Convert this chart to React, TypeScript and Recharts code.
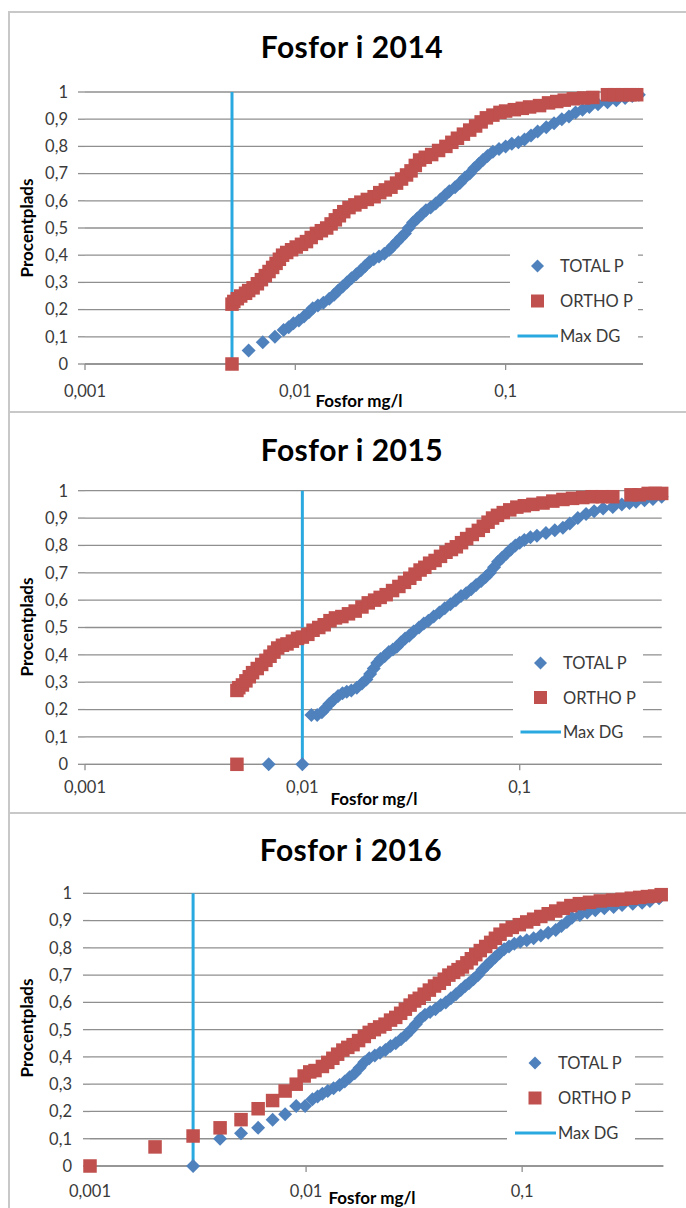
import React from "react";
import { ScatterChart, Scatter, XAxis, YAxis, CartesianGrid } from "recharts";

// axis setup shared by the three panels
const xTicks = [0.001, 0.01, 0.1];
const yTicks = [0, 0.1, 0.2, 0.3, 0.4, 0.5, 0.6, 0.7, 0.8, 0.9, 1];
const xDomain = [0.001, 0.45];
const yDomain = [0, 1];

const titles = ["Fosfor i 2014", "Fosfor i 2015", "Fosfor i 2016"];
const seriesNames = ["TOTAL P", "ORTHO P", "Max DG"];
const maxDg = [0.005, 0.01, 0.003];

// [x mg/l, percentile]
const total2014: [number, number][] = [
  [0.006, 0.05], [0.007, 0.08], [0.008, 0.1], [0.0088, 0.125], [0.0093, 0.135], [0.0098, 0.15],
  [0.0104, 0.16], [0.011, 0.175], [0.0116, 0.19], [0.0121, 0.205], [0.0128, 0.215], [0.0136, 0.225],
  [0.0145, 0.24], [0.0153, 0.255], [0.016, 0.27], [0.0168, 0.285], [0.0176, 0.3], [0.0185, 0.315],
  [0.0195, 0.33], [0.0205, 0.345], [0.0215, 0.36], [0.0225, 0.375], [0.0236, 0.385], [0.025, 0.395],
  [0.0265, 0.405], [0.028, 0.42], [0.0292, 0.435], [0.0305, 0.45], [0.0318, 0.465], [0.0332, 0.48],
  [0.0346, 0.5], [0.0363, 0.52], [0.038, 0.535], [0.0398, 0.55], [0.0418, 0.565], [0.044, 0.575],
  [0.0465, 0.59], [0.049, 0.605], [0.0515, 0.62], [0.054, 0.635], [0.0575, 0.65], [0.0606, 0.665],
  [0.064, 0.685], [0.0675, 0.7], [0.071, 0.72], [0.0745, 0.735], [0.078, 0.75], [0.082, 0.765],
  [0.087, 0.78], [0.093, 0.79], [0.1, 0.8], [0.107, 0.81], [0.115, 0.815], [0.123, 0.825],
  [0.132, 0.84], [0.142, 0.855], [0.156, 0.87], [0.17, 0.885], [0.185, 0.9], [0.2, 0.91],
  [0.215, 0.925], [0.232, 0.935], [0.25, 0.945], [0.275, 0.955], [0.305, 0.962], [0.336, 0.97],
  [0.37, 0.978], [0.4, 0.985], [0.43, 0.99],
];

const ortho2014: [number, number][] = [
  [0.005, 0], [0.005, 0.22], [0.0051, 0.23], [0.0053, 0.24], [0.0055, 0.25], [0.0058, 0.26],
  [0.006, 0.27], [0.0063, 0.28], [0.0066, 0.295], [0.0069, 0.31], [0.0072, 0.325], [0.0075, 0.34],
  [0.0078, 0.355], [0.0081, 0.37], [0.0084, 0.385], [0.0087, 0.4], [0.0091, 0.41], [0.0096, 0.42],
  [0.0101, 0.43], [0.0107, 0.44], [0.0113, 0.45], [0.0119, 0.465], [0.0126, 0.48], [0.0133, 0.49],
  [0.0141, 0.5], [0.0148, 0.515], [0.0155, 0.53], [0.0162, 0.545], [0.017, 0.56], [0.018, 0.575],
  [0.0192, 0.585], [0.0205, 0.595], [0.022, 0.605], [0.0237, 0.615], [0.0252, 0.63], [0.0268, 0.64],
  [0.0285, 0.65], [0.0303, 0.665], [0.032, 0.68], [0.0338, 0.695], [0.0355, 0.71], [0.0372, 0.73],
  [0.039, 0.75], [0.0415, 0.76], [0.0445, 0.77], [0.048, 0.785], [0.052, 0.8], [0.0555, 0.815],
  [0.059, 0.83], [0.063, 0.845], [0.0675, 0.86], [0.072, 0.875], [0.0765, 0.89], [0.081, 0.905],
  [0.087, 0.915], [0.094, 0.925], [0.1, 0.93], [0.11, 0.935], [0.12, 0.94], [0.13, 0.945],
  [0.145, 0.95], [0.16, 0.96], [0.175, 0.965], [0.19, 0.97], [0.21, 0.975], [0.235, 0.978],
  [0.26, 0.98], [0.305, 0.99], [0.33, 0.99], [0.36, 0.99], [0.39, 0.99], [0.42, 0.99],
];

const total2015: [number, number][] = [
  [0.007, 0], [0.01, 0], [0.011, 0.18], [0.0117, 0.18], [0.0123, 0.19], [0.0128, 0.205],
  [0.0133, 0.22], [0.0139, 0.235], [0.0146, 0.25], [0.0153, 0.26], [0.016, 0.265], [0.0168, 0.27],
  [0.0178, 0.28], [0.0188, 0.295], [0.0197, 0.31], [0.0205, 0.33], [0.0213, 0.35], [0.0221, 0.37],
  [0.0229, 0.385], [0.0239, 0.395], [0.025, 0.41], [0.0261, 0.42], [0.0272, 0.43], [0.0284, 0.445],
  [0.0297, 0.46], [0.031, 0.47], [0.0325, 0.485], [0.0344, 0.5], [0.0362, 0.515], [0.038, 0.525],
  [0.0402, 0.54], [0.0427, 0.555], [0.0452, 0.57], [0.048, 0.585], [0.0508, 0.6], [0.0537, 0.615],
  [0.0567, 0.625], [0.0598, 0.64], [0.063, 0.655], [0.0665, 0.67], [0.0697, 0.685], [0.0729, 0.7],
  [0.0762, 0.72], [0.0795, 0.74], [0.083, 0.755], [0.0868, 0.77], [0.091, 0.785], [0.0955, 0.8],
  [0.1, 0.81], [0.105, 0.82], [0.112, 0.83], [0.12, 0.835], [0.132, 0.845], [0.145, 0.855],
  [0.158, 0.865], [0.17, 0.88], [0.185, 0.9], [0.202, 0.915], [0.22, 0.925], [0.242, 0.935],
  [0.268, 0.94], [0.295, 0.95], [0.32, 0.955], [0.343, 0.96], [0.375, 0.965], [0.41, 0.97],
  [0.45, 0.978],
];

const ortho2015: [number, number][] = [
  [0.005, 0], [0.005, 0.27], [0.0051, 0.28], [0.0053, 0.29], [0.0055, 0.305], [0.0057, 0.32],
  [0.0059, 0.335], [0.0062, 0.35], [0.0065, 0.365], [0.0068, 0.38], [0.0071, 0.395], [0.0074, 0.41],
  [0.0077, 0.425], [0.0081, 0.435], [0.0085, 0.44], [0.009, 0.45], [0.0095, 0.46], [0.01, 0.465],
  [0.0106, 0.475], [0.0112, 0.49], [0.0119, 0.5], [0.0126, 0.51], [0.0134, 0.525], [0.0142, 0.535],
  [0.0152, 0.54], [0.0163, 0.55], [0.0175, 0.56], [0.0188, 0.575], [0.0201, 0.59], [0.0215, 0.6],
  [0.0228, 0.61], [0.0243, 0.62], [0.026, 0.635], [0.0278, 0.65], [0.0295, 0.665], [0.0312, 0.68],
  [0.033, 0.695], [0.0348, 0.71], [0.0366, 0.72], [0.0385, 0.735], [0.0408, 0.745], [0.0432, 0.76],
  [0.0458, 0.775], [0.0485, 0.785], [0.0511, 0.795], [0.054, 0.81], [0.057, 0.825], [0.0605, 0.84],
  [0.0645, 0.855], [0.068, 0.87], [0.0715, 0.885], [0.075, 0.9], [0.079, 0.91], [0.084, 0.92],
  [0.09, 0.93], [0.097, 0.94], [0.105, 0.945], [0.115, 0.95], [0.128, 0.955], [0.142, 0.962],
  [0.158, 0.968], [0.175, 0.972], [0.195, 0.975], [0.215, 0.978], [0.24, 0.978], [0.268, 0.978],
  [0.325, 0.985], [0.355, 0.985], [0.39, 0.99], [0.42, 0.99], [0.45, 0.99],
];

const total2016: [number, number][] = [
  [0.003, 0], [0.004, 0.1], [0.005, 0.12], [0.006, 0.14], [0.007, 0.17], [0.008, 0.19],
  [0.009, 0.22], [0.0099, 0.22], [0.0107, 0.245], [0.0113, 0.255], [0.0119, 0.265], [0.0126, 0.275],
  [0.0134, 0.285], [0.0143, 0.297], [0.0151, 0.31], [0.0159, 0.325], [0.0168, 0.34], [0.0177, 0.36],
  [0.0186, 0.38], [0.0196, 0.395], [0.0208, 0.405], [0.022, 0.415], [0.0233, 0.425], [0.0246, 0.44],
  [0.026, 0.45], [0.0275, 0.465], [0.029, 0.48], [0.0306, 0.5], [0.0322, 0.52], [0.0338, 0.54],
  [0.0355, 0.555], [0.0375, 0.565], [0.0397, 0.575], [0.042, 0.59], [0.0443, 0.6], [0.0468, 0.615],
  [0.0494, 0.63], [0.052, 0.645], [0.0545, 0.66], [0.0567, 0.67], [0.0595, 0.685], [0.0625, 0.7],
  [0.0655, 0.72], [0.0685, 0.735], [0.0715, 0.75], [0.0748, 0.765], [0.0785, 0.78], [0.0825, 0.795],
  [0.0869, 0.805], [0.092, 0.815], [0.098, 0.822], [0.105, 0.828], [0.113, 0.835], [0.122, 0.845],
  [0.132, 0.855], [0.143, 0.865], [0.152, 0.88], [0.161, 0.895], [0.17, 0.91], [0.185, 0.92],
  [0.2, 0.93], [0.218, 0.938], [0.24, 0.945], [0.265, 0.95], [0.29, 0.957], [0.325, 0.962],
  [0.359, 0.965], [0.39, 0.972], [0.43, 0.982],
];

const ortho2016: [number, number][] = [
  [0.001, 0], [0.002, 0.07], [0.003, 0.11], [0.004, 0.14], [0.005, 0.17], [0.006, 0.21],
  [0.007, 0.24], [0.008, 0.275], [0.009, 0.3], [0.0098, 0.33], [0.0104, 0.345], [0.011, 0.35],
  [0.0119, 0.365], [0.0126, 0.38], [0.0133, 0.395], [0.014, 0.41], [0.0148, 0.425], [0.0156, 0.435],
  [0.0165, 0.445], [0.0175, 0.46], [0.0186, 0.475], [0.0196, 0.49], [0.0207, 0.5], [0.0219, 0.51],
  [0.0232, 0.52], [0.0246, 0.535], [0.026, 0.545], [0.0274, 0.56], [0.0288, 0.575], [0.0303, 0.59],
  [0.0318, 0.605], [0.0334, 0.615], [0.0352, 0.63], [0.0372, 0.645], [0.0393, 0.66], [0.0414, 0.67],
  [0.0436, 0.685], [0.0458, 0.7], [0.0482, 0.71], [0.0505, 0.72], [0.0529, 0.73], [0.0555, 0.745],
  [0.0582, 0.76], [0.061, 0.775], [0.064, 0.79], [0.0678, 0.805], [0.0715, 0.82], [0.0752, 0.835],
  [0.079, 0.85], [0.0842, 0.865], [0.09, 0.875], [0.097, 0.885], [0.105, 0.895], [0.113, 0.905],
  [0.122, 0.915], [0.132, 0.925], [0.143, 0.935], [0.155, 0.945], [0.168, 0.955], [0.184, 0.962],
  [0.205, 0.967], [0.23, 0.972], [0.262, 0.975], [0.29, 0.978], [0.32, 0.982], [0.35, 0.985],
  [0.38, 0.988], [0.41, 0.99], [0.44, 0.995],
];

const totals = [total2014, total2015, total2016];
const orthos = [ortho2014, ortho2015, ortho2016];

const BLUE = "#4F81BD";
const RED = "#C0504D";
const CYAN = "#2AA9E0";
const GRID = "#8f8f8f";
const TEXT = "#3a3a3a";
const FONT = "Lato, 'Open Sans', sans-serif";
const W = 686;

// page-coordinate geometry per panel
const layouts = [
  { top: 12, height: 400, plotTop: 92, plotBottom: 364, plotLeft: 85, plotRight: 643, xTickMargin: 15, yTickMargin: 10,
    titleX: 352, titleY: 46, yTitleY: 228, xTitleX: 359, xTitleY: 401,
    legend: { left: 510, top: 248, width: 128, height: 100, markerX: 537.5, textX: 560, firstY: 266, step: 35 } },
  { top: 412, height: 401, plotTop: 490.7, plotBottom: 764.3, plotLeft: 85, plotRight: 661.7, xTickMargin: 11, yTickMargin: 10,
    titleX: 352, titleY: 449, yTitleY: 627, xTitleX: 374, xTitleY: 798.5,
    legend: { left: 513, top: 648, width: 130, height: 100, markerX: 540.5, textX: 563, firstY: 663, step: 34.5 } },
  { top: 813, height: 395, plotTop: 893.3, plotBottom: 1166, plotLeft: 90, plotRight: 663.3, xTickMargin: 13, yTickMargin: 11,
    titleX: 351, titleY: 849, yTitleY: 1028, xTitleX: 372, xTitleY: 1197.5,
    legend: { left: 507, top: 1048, width: 128, height: 100, markerX: 535, textX: 558, firstY: 1063, step: 35 } },
];

const comma = (v: number) => String(v).replace(".", ",");

const Diamond = (props: any) => {
  const { cx, cy } = props;
  const r = 7;
  return <polygon points={`${cx},${cy - r} ${cx + r},${cy} ${cx},${cy + r} ${cx - r},${cy}`} fill={BLUE} />;
};

const Square = (props: any) => {
  const { cx, cy } = props;
  const s = 13.5;
  return <rect x={cx - s / 2} y={cy - s / 2} width={s} height={s} fill={RED} />;
};

const NoDot = () => <g />;

function Legend({ lg }: { lg: any }) {
  const rows = [0, 1, 2].map((i) => lg.firstY + i * lg.step);
  const mx = lg.markerX - lg.left;
  return (
    <div style={{ position: "absolute", left: lg.left, top: lg.top, width: lg.width, height: lg.height, background: "#fff" }}>
      <svg width={lg.width} height={lg.height} style={{ position: "absolute", left: 0, top: 0 }}>
        <polygon
          points={`${mx},${rows[0] - lg.top - 6.5} ${mx + 6.5},${rows[0] - lg.top} ${mx},${rows[0] - lg.top + 6.5} ${mx - 6.5},${rows[0] - lg.top}`}
          fill={BLUE}
        />
        <rect x={mx - 6.5} y={rows[1] - lg.top - 6.5} width={13} height={13} fill={RED} />
        <line x1={mx - 20} x2={lg.textX - lg.left - 2} y1={rows[2] - lg.top} y2={rows[2] - lg.top} stroke={CYAN} strokeWidth={3} />
      </svg>
      {seriesNames.map((name, i) => (
        <div
          key={name}
          style={{
            position: "absolute",
            left: lg.textX - lg.left,
            top: rows[i] - lg.top - 10,
            height: 20,
            lineHeight: "20px",
            fontSize: 16.5,
            fontFamily: FONT,
            color: TEXT,
            whiteSpace: "nowrap",
          }}
        >
          {name}
        </div>
      ))}
    </div>
  );
}

function Panel({ idx }: { idx: number }) {
  const L = layouts[idx];
  const total = totals[idx].map(([x, y]) => ({ x, y }));
  const ortho = orthos[idx].map(([x, y]) => ({ x, y }));
  const dg = [
    { x: maxDg[idx], y: yDomain[0] },
    { x: maxDg[idx], y: yDomain[1] },
  ];
  const yAxisW = 60;
  const xAxisH = 30;
  const margin = {
    top: L.plotTop - L.top,
    right: W - L.plotRight,
    left: L.plotLeft - yAxisW,
    bottom: L.top + L.height - L.plotBottom - xAxisH,
  };
  return (
    <>
      <div style={{ position: "absolute", left: 0, top: L.top, width: W, height: L.height }}>
        <ScatterChart width={W} height={L.height} margin={margin}>
          <CartesianGrid horizontal vertical={false} stroke={GRID} strokeWidth={1.3} />
          <XAxis
            type="number"
            dataKey="x"
            scale="log"
            domain={xDomain}
            ticks={xTicks}
            interval={0}
            tickFormatter={comma}
            height={xAxisH}
            axisLine={{ stroke: GRID, strokeWidth: 1.3 }}
            tickLine={{ stroke: GRID, strokeWidth: 1.3 }}
            tickSize={6}
            tickMargin={L.xTickMargin}
            tick={{ fontSize: 16.5, fill: TEXT, fontFamily: FONT }}
          />
          <YAxis
            type="number"
            dataKey="y"
            domain={yDomain}
            ticks={yTicks}
            interval={0}
            tickFormatter={comma}
            width={yAxisW}
            axisLine={false}
            tickLine={{ stroke: GRID, strokeWidth: 1.3 }}
            tickSize={7}
            tickMargin={L.yTickMargin}
            tick={{ fontSize: 16.5, fill: TEXT, fontFamily: FONT }}
          />
          <Scatter
            name={seriesNames[2]}
            data={dg}
            line={{ stroke: CYAN, strokeWidth: 3 }}
            shape={NoDot}
            isAnimationActive={false}
          />
          <Scatter name={seriesNames[0]} data={total} shape={Diamond} isAnimationActive={false} />
          <Scatter name={seriesNames[1]} data={ortho} shape={Square} isAnimationActive={false} />
        </ScatterChart>
      </div>
      <div
        style={{
          position: "absolute",
          left: L.titleX - 200,
          top: L.titleY - 18,
          width: 400,
          height: 36,
          lineHeight: "36px",
          textAlign: "center",
          fontSize: 30,
          letterSpacing: 0.5,
          fontWeight: 700,
          fontFamily: FONT,
          color: "#000",
        }}
      >
        {titles[idx]}
      </div>
      <div
        style={{
          position: "absolute",
          left: 27 - 70,
          top: L.yTitleY - 10,
          width: 140,
          height: 20,
          lineHeight: "20px",
          textAlign: "center",
          fontSize: 17,
          fontWeight: 700,
          fontFamily: FONT,
          color: "#000",
          transform: "rotate(-90deg)",
        }}
      >
        Procentplads
      </div>
      <div
        style={{
          position: "absolute",
          left: L.xTitleX - 70,
          top: L.xTitleY - 10,
          width: 140,
          height: 20,
          lineHeight: "20px",
          textAlign: "center",
          fontSize: 17,
          fontWeight: 700,
          fontFamily: FONT,
          color: "#000",
        }}
      >
        Fosfor mg/l
      </div>
      <Legend lg={L.legend} />
    </>
  );
}

export default function App() {
  const border = "#c8c8c8";
  return (
    <div style={{ position: "absolute", left: 0, top: 0, width: W, height: 1208, overflow: "hidden", background: "#fff" }}>
      {[0, 1, 2].map((i) => (
        <Panel key={i} idx={i} />
      ))}
      <div style={{ position: "absolute", left: 8, top: 11, width: W - 8, height: 2, background: border }} />
      <div style={{ position: "absolute", left: 8, top: 411, width: W - 8, height: 2, background: border }} />
      <div style={{ position: "absolute", left: 8, top: 812, width: W - 8, height: 2, background: border }} />
      <div style={{ position: "absolute", left: 8, top: 11, width: 2, height: 1208 - 11, background: border }} />
    </div>
  );
}
